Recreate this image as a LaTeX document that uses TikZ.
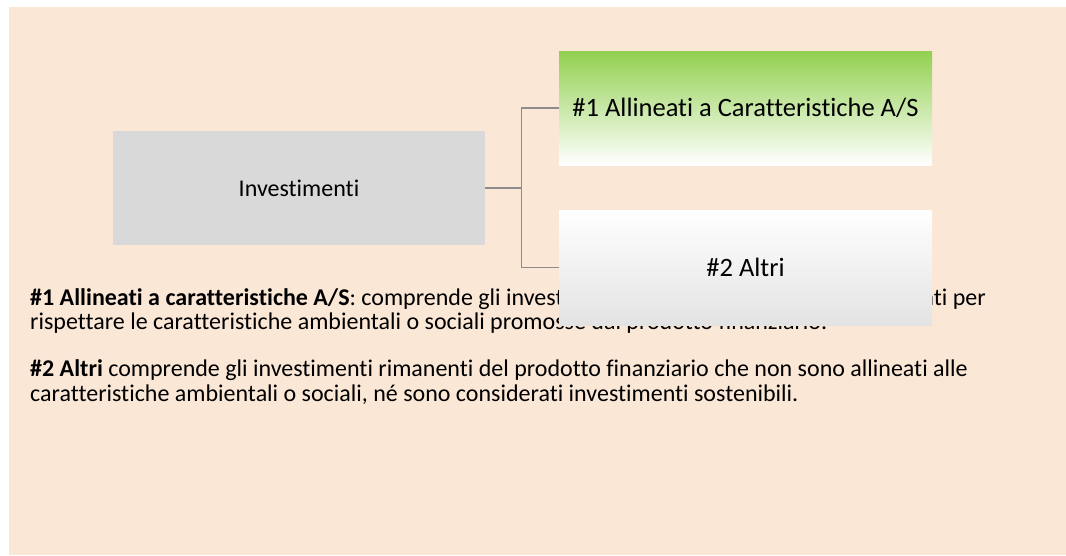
\documentclass[tikz,border=0pt]{standalone}
\usepackage{fontspec}
\setmainfont[Ligatures=NoCommon]{Carlito}
\definecolor{bgpeach}{HTML}{FBE7D6}
\definecolor{boxgray}{HTML}{D9D9D9}
\definecolor{topgreen}{HTML}{92D050}
\definecolor{btmgray}{HTML}{E3E3E3}
\definecolor{linegray}{HTML}{8C8C8C}
\tikzset{
  box/.style={rectangle, inner sep=0pt, minimum width=373pt, minimum height=114pt, draw=none},
  conn/.style={draw=linegray, line width=1.5pt},
  para/.style={anchor=base west, inner sep=0pt, align=left, font=\fontsize{24}{24.5}\selectfont}
}
\begin{document}
\begin{tikzpicture}[x=1pt,y=-1pt]
\fill[white] (0,0) rectangle (1066,555);
\fill[bgpeach] (9,7) rectangle (1066,555);
\useasboundingbox (0,0) rectangle (1066,555);

% anchor base = baseline of the last line
\node[para] (p1) at (30,329.5) {\textbf{\#1 Allineati a caratteristiche A/S}: comprende gli investimenti del prodotto finanziario utilizzati per\\rispettare le caratteristiche ambientali o sociali promosse dal prodotto finanziario.};
\node[para] (p2) at (30,401) {\textbf{\#2 Altri} comprende gli investimenti rimanenti del prodotto finanziario che non sono allineati alle\\caratteristiche ambientali o sociali, né sono considerati investimenti sostenibili.};

\node[box, fill=boxgray, minimum width=372pt, font=\fontsize{24}{28}\selectfont] (inv) at (299,188) {Investimenti};
\node[box, top color=topgreen, bottom color=white, font=\fontsize{26.5}{30}\selectfont] (a1) at (745.5,108) {\#1 Allineati a Caratteristiche A/S};
\node[box, minimum height=115pt, top color=white, middle color=white, bottom color=btmgray, font=\fontsize{26.5}{30}\selectfont] (a2) at (745.5,267.5) {\#2 Altri};

\coordinate (j) at (521.5,188);
\draw[conn] (inv.east) -- (j) |- (a1.west);
\draw[conn] (j) |- (a2.west);
\end{tikzpicture}
\end{document}
